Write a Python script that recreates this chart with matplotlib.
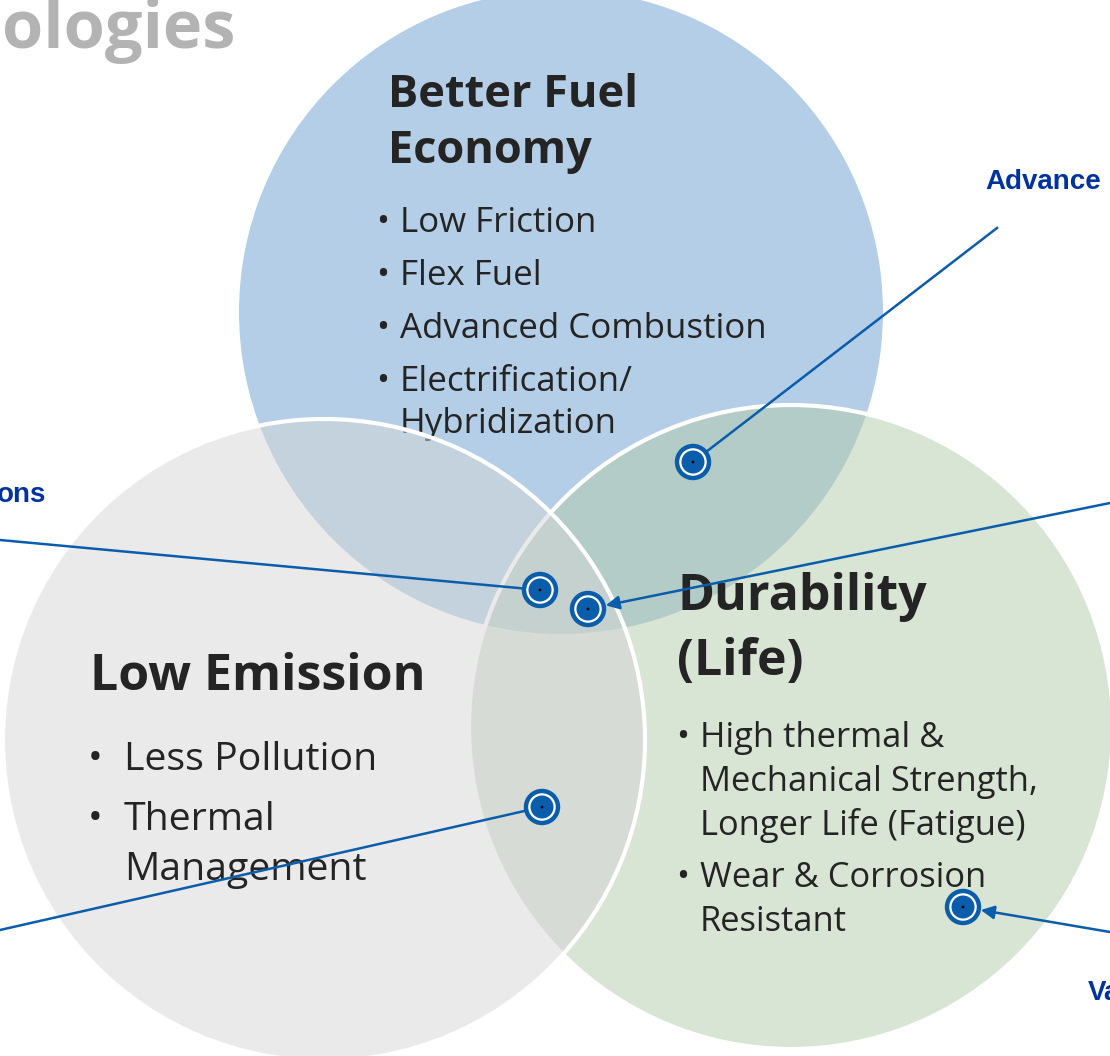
import matplotlib.pyplot as plt
from matplotlib.patches import Circle

# Texte der drei Kreise
header_text = 'ologies'
fuel_title = ['Better Fuel', 'Economy']
fuel_bullets = [['Low Friction'], ['Flex Fuel'], ['Advanced Combustion'],
                ['Electrification/', 'Hybridization']]
emission_title = ['Low Emission']
emission_bullets = [['Less Pollution'], ['Thermal', 'Management']]
life_title = ['Durability', '(Life)']
life_bullets = [['High thermal &', 'Mechanical Strength,', 'Longer Life (Fatigue)'],
                ['Wear & Corrosion', 'Resistant']]
callout_labels = ['Advance', 'ons', 'Va']

W, H = 1110, 1056
fig = plt.figure(figsize=(W / 100, H / 100), dpi=100)
ax = fig.add_axes([0, 0, 1, 1])
ax.set_xlim(0, W)
ax.set_ylim(H, 0)
ax.set_aspect('equal')
ax.axis('off')

dark = '#242424'
lineblue = '#0a5dab'
textblue = '#0033a0'
body = 'Open Sans'

# Kreise: blau unten, gruen, grau oben (halbtransparent)
ax.add_patch(Circle((561, 312), 322, fc='#b3cee6', ec='none', zorder=1))
ax.add_patch(Circle((791, 727), 322, fc=(179/255, 203/255, 171/255), alpha=0.5, ec='none', zorder=2))
ax.add_patch(Circle((791, 727), 322, fc='none', ec='white', lw=3, zorder=2.1))
ax.add_patch(Circle((324, 740), 321, fc=(214/255, 214/255, 214/255), alpha=0.5, ec='none', zorder=3))
ax.add_patch(Circle((324, 740), 321, fc='none', ec='white', lw=3, zorder=3.1))


def block(x_dot, x_text, y0, line_h, para_h, items, size, z):
    y = y0
    for item in items:
        ax.text(x_dot, y, '•', fontsize=size, family=body, color=dark, va='baseline', zorder=z)
        for line in item:
            ax.text(x_text, y, line, fontsize=size, family=body, color=dark, va='baseline', zorder=z)
            y += line_h
        y += para_h - line_h


def title(x, y0, line_h, lines, size):
    for i, line in enumerate(lines):
        ax.text(x, y0 + i * line_h, line, fontsize=size, family=body, weight='bold',
                color=dark, va='baseline', zorder=6)


ax.text(2, 48, header_text, fontsize=48, family=body, weight='bold', color='#b3b3b3',
        va='baseline', zorder=6)

title(388, 107, 56, fuel_title, 32.5)
block(376, 400, 232, 42, 53, fuel_bullets, 25.1, 1.5)

title(90, 690, 60, emission_title, 36)
block(88, 124, 770, 50, 60, emission_bullets, 28.3, 6)

title(677, 610, 65, life_title, 36)
block(676, 700, 747, 44, 52, life_bullets, 24.8, 6)

# Callout-Texte (am Bildrand abgeschnitten wie im Original)
ax.text(985, 189, callout_labels[0], fontsize=20, family='Liberation Sans', weight='bold',
        color=textblue, va='baseline', zorder=6)
ax.text(46, 502, callout_labels[1], fontsize=20, family='Liberation Sans', weight='bold',
        color=textblue, va='baseline', ha='right', zorder=6)
ax.text(1088, 1000, callout_labels[2], fontsize=20, family='Liberation Sans', weight='bold',
        color=textblue, va='baseline', zorder=6)

# Marker und Verbindungslinien
markers = [(693, 462), (540, 590), (588, 609), (542, 807), (963, 907)]
starts = [(997, 228), (0, 540), (1110, 503), (0, 930), (1110, 932)]
arrows = [False, False, True, False, True]

for (mx, my), (sx, sy), arr in zip(markers, starts, arrows):
    if arr:
        ax.annotate('', xy=(mx, my), xytext=(sx, sy),
                    arrowprops=dict(arrowstyle='-|>', color=lineblue, lw=1.8,
                                    mutation_scale=20, shrinkA=0, shrinkB=13),
                    zorder=7)
    else:
        ax.plot([sx, mx], [sy, my], color=lineblue, lw=1.8, zorder=7)
    ax.add_patch(Circle((mx, my), 16, fc='white', ec=lineblue, lw=3.2, zorder=8))
    ax.add_patch(Circle((mx, my), 11.5, fc=lineblue, ec='none', zorder=9))
    ax.add_patch(Circle((mx, my), 1.4, fc='black', ec='none', zorder=10))

fig.savefig('out.png', dpi=100)
